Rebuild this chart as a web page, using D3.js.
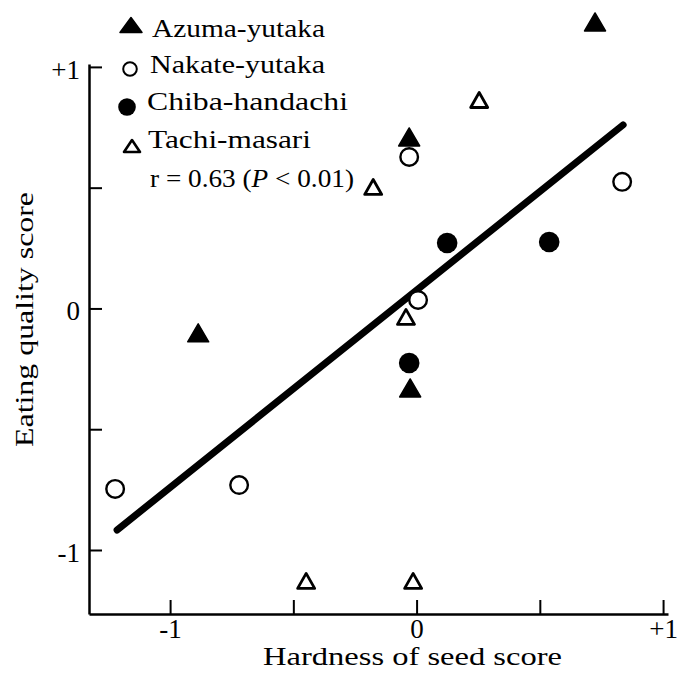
<!DOCTYPE html>
<html>
<head>
<meta charset="utf-8">
<script src="https://cdn.jsdelivr.net/npm/d3@7"></script>
<style>
  html, body { margin: 0; padding: 0; background: #fff; }
  svg { display: block; }
  text { font-family: "Liberation Serif", "Times New Roman", serif; fill: #000; }
  .tick text { font-size: 27px; }
</style>
</head>
<body>
<script>
// Cultivar scores: hardness of seed (x) vs eating quality (y)
const azumaX = [0.724, -0.030, -0.886, -0.026];
const azumaY = [1.186, 0.710, -0.101, -0.329];

const nakateX = [-0.030, 0.834, 0.006, -1.223, -0.720];
const nakateY = [0.627, 0.524, 0.035, -0.747, -0.731];

const chibaX = [0.124, 0.538, -0.030];
const chibaY = [0.271, 0.275, -0.226];

const tachiX = [0.254, -0.176, -0.043, -0.448, -0.014];
const tachiY = [0.863, 0.503, -0.035, -1.128, -1.128];

// Regression line end points
const fitX = [-1.215, 0.838];
const fitY = [-0.917, 0.760];

const tickValues = [-1, -0.5, 0, 0.5, 1];
const tickLabels = { "-1": "-1", "0": "0", "1": "+1" };

const legendNames = ["Azuma-yutaka", "Nakate-yutaka", "Chiba-handachi", "Tachi-masari"];

const W = 688, H = 682;
const svg = d3.select("body").append("svg").attr("width", W).attr("height", H);

const x = d3.scaleLinear().domain([-1.329, 1.02]).range([89, 668]);
const y = d3.scaleLinear().domain([-1.265, 1.012]).range([614, 64]);

const fmt = d => tickLabels[String(d)] || "";

// Axes with inward ticks
const xAxis = d3.axisBottom(x).tickValues(tickValues).tickFormat(fmt)
  .tickSizeInner(-14).tickSizeOuter(0).tickPadding(5);
const yAxis = d3.axisLeft(y).tickValues(tickValues).tickFormat(fmt)
  .tickSizeInner(-13).tickSizeOuter(0).tickPadding(9);

const gx = svg.append("g").attr("transform", "translate(0,614)").call(xAxis);
const gy = svg.append("g").attr("transform", "translate(89,0)").call(yAxis);

[gx, gy].forEach(g => {
  g.attr("font-family", "'Liberation Serif', serif");
  g.select(".domain").attr("stroke", "#000").attr("stroke-width", 2.5);
  g.selectAll(".tick line").attr("stroke", "#000").attr("stroke-width", 2);
  g.selectAll(".tick text").attr("fill", "#000").style("font-size", "27px");
});
gy.selectAll(".tick text").attr("dy", "0.42em");

// Axis titles
svg.append("text")
  .attr("x", 263).attr("y", 665)
  .attr("font-size", 25)
  .attr("textLength", 299).attr("lengthAdjust", "spacingAndGlyphs")
  .text("Hardness of seed score");

svg.append("text")
  .attr("transform", "translate(33,447) rotate(-90)")
  .attr("font-size", 26)
  .attr("textLength", 255).attr("lengthAdjust", "spacingAndGlyphs")
  .text("Eating quality score");

// Marker shapes
function triPath(cx, cy, w, h) {
  return `M${cx},${cy - h / 2}L${cx + w / 2},${cy + h / 2}L${cx - w / 2},${cy + h / 2}Z`;
}

const plot = svg.append("g");

// Regression line
plot.append("line")
  .attr("x1", x(fitX[0])).attr("y1", y(fitY[0]))
  .attr("x2", x(fitX[1])).attr("y2", y(fitY[1]))
  .attr("stroke", "#000").attr("stroke-width", 7).attr("stroke-linecap", "round");

// Azuma-yutaka: filled triangles
plot.selectAll("path.azuma").data(d3.zip(azumaX, azumaY)).join("path")
  .attr("class", "azuma")
  .attr("d", d => triPath(x(d[0]), y(d[1]), 21, 18))
  .attr("fill", "#000").attr("stroke", "#000").attr("stroke-width", 1.5)
  .attr("stroke-linejoin", "round");

// Nakate-yutaka: open circles
plot.selectAll("circle.nakate").data(d3.zip(nakateX, nakateY)).join("circle")
  .attr("class", "nakate")
  .attr("cx", d => x(d[0])).attr("cy", d => y(d[1])).attr("r", 8.8)
  .attr("fill", "#fff").attr("stroke", "#000").attr("stroke-width", 2.4);

// Chiba-handachi: filled circles
plot.selectAll("circle.chiba").data(d3.zip(chibaX, chibaY)).join("circle")
  .attr("class", "chiba")
  .attr("cx", d => x(d[0])).attr("cy", d => y(d[1])).attr("r", 10.3)
  .attr("fill", "#000");

// Tachi-masari: open triangles
plot.selectAll("path.tachi").data(d3.zip(tachiX, tachiY)).join("path")
  .attr("class", "tachi")
  .attr("d", d => triPath(x(d[0]), y(d[1]), 17, 15))
  .attr("fill", "#fff").attr("stroke", "#000").attr("stroke-width", 2.8)
  .attr("stroke-linejoin", "round");

// Legend
const legend = svg.append("g");
const rowBase = [37, 73, 110, 148];
const textX = [152, 150, 147, 148];
const textLen = [173, 175, 201, 163];

legend.append("path").attr("d", triPath(131, 25, 22, 15))
  .attr("fill", "#000").attr("stroke", "#000").attr("stroke-width", 1.5).attr("stroke-linejoin", "round");
legend.append("circle").attr("cx", 130).attr("cy", 69).attr("r", 6.8)
  .attr("fill", "#fff").attr("stroke", "#000").attr("stroke-width", 2);
legend.append("circle").attr("cx", 127).attr("cy", 107).attr("r", 8.8).attr("fill", "#000");
legend.append("path").attr("d", triPath(132, 146, 16, 12))
  .attr("fill", "#fff").attr("stroke", "#000").attr("stroke-width", 2.6).attr("stroke-linejoin", "round");

legendNames.forEach((name, i) => {
  legend.append("text")
    .attr("x", textX[i]).attr("y", rowBase[i])
    .attr("font-size", 26)
    .attr("textLength", textLen[i]).attr("lengthAdjust", "spacingAndGlyphs")
    .text(name);
});

const rText = legend.append("text")
  .attr("x", 150).attr("y", 187)
  .attr("font-size", 26)
  .attr("textLength", 204).attr("lengthAdjust", "spacingAndGlyphs");
rText.append("tspan").text("r = 0.63 (");
rText.append("tspan").attr("font-style", "italic").text("P");
rText.append("tspan").text(" < 0.01)");
</script>
</body>
</html>
